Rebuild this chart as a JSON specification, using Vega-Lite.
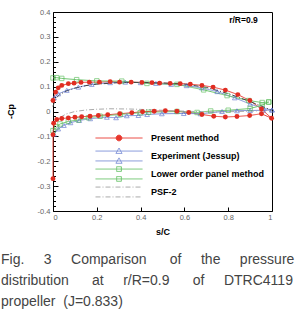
{
  "$schema": "https://vega.github.io/schema/vega-lite/v6.json",
  "autosize": "none",
  "width": 219,
  "height": 199,
  "padding": {"left": 53, "top": 12, "right": 26, "bottom": 105},
  "config": {
    "font": "Liberation Sans",
    "view": {"stroke": "black", "strokeWidth": 1},
    "axis": {"grid": false, "domainColor": "black", "tickColor": "black", "labelColor": "#666", "labelFontSize": 7.5, "titleFontSize": 9, "titleFontWeight": "bold", "titleColor": "black"}
  },
  "title": {
    "text": [
      "Fig.\u00a0\u00a0\u00a0\u00a0\u00a03\u00a0\u00a0\u00a0\u00a0\u00a0Comparison\u00a0\u00a0\u00a0\u00a0\u00a0\u00a0of\u00a0\u00a0\u00a0\u00a0\u00a0the\u00a0\u00a0\u00a0\u00a0\u00a0pressure",
      "distribution\u00a0\u00a0\u00a0\u00a0\u00a0\u00a0at\u00a0\u00a0\u00a0\u00a0\u00a0r/R=0.9\u00a0\u00a0\u00a0\u00a0\u00a0\u00a0of\u00a0\u00a0\u00a0\u00a0\u00a0DTRC4119",
      "propeller\u00a0\u00a0(J=0.833)"
    ],
    "orient": "bottom",
    "anchor": "start",
    "frame": "group",
    "dx": -52,
    "offset": 17,
    "fontSize": 14,
    "fontWeight": "normal",
    "color": "#444",
    "lineHeight": 21,
    "font": "Liberation Sans"
  },
  "data": {"values": [
    {"m":"Present method","sf":"P","i":0,"s":0.0,"cp":-0.27},
    {"m":"Present method","sf":"P","i":1,"s":0.0,"cp":-0.093},
    {"m":"Present method","sf":"P","i":2,"s":0.003,"cp":-0.047},
    {"m":"Present method","sf":"P","i":3,"s":0.017,"cp":-0.032},
    {"m":"Present method","sf":"P","i":4,"s":0.040,"cp":-0.028},
    {"m":"Present method","sf":"P","i":5,"s":0.070,"cp":-0.026},
    {"m":"Present method","sf":"P","i":6,"s":0.100,"cp":-0.023},
    {"m":"Present method","sf":"P","i":7,"s":0.131,"cp":-0.021},
    {"m":"Present method","sf":"P","i":8,"s":0.169,"cp":-0.019},
    {"m":"Present method","sf":"P","i":9,"s":0.207,"cp":-0.016},
    {"m":"Present method","sf":"P","i":10,"s":0.250,"cp":-0.013},
    {"m":"Present method","sf":"P","i":11,"s":0.305,"cp":-0.009},
    {"m":"Present method","sf":"P","i":12,"s":0.360,"cp":-0.005},
    {"m":"Present method","sf":"P","i":13,"s":0.409,"cp":-0.001},
    {"m":"Present method","sf":"P","i":14,"s":0.462,"cp":0.001},
    {"m":"Present method","sf":"P","i":15,"s":0.513,"cp":0.003},
    {"m":"Present method","sf":"P","i":16,"s":0.566,"cp":0.001},
    {"m":"Present method","sf":"P","i":17,"s":0.620,"cp":-0.004},
    {"m":"Present method","sf":"P","i":18,"s":0.680,"cp":-0.012},
    {"m":"Present method","sf":"P","i":19,"s":0.734,"cp":-0.019},
    {"m":"Present method","sf":"P","i":20,"s":0.787,"cp":-0.022},
    {"m":"Present method","sf":"P","i":21,"s":0.840,"cp":-0.020},
    {"m":"Present method","sf":"P","i":22,"s":0.898,"cp":-0.016},
    {"m":"Present method","sf":"P","i":23,"s":0.952,"cp":-0.009},
    {"m":"Present method","sf":"P","i":24,"s":0.998,"cp":-0.027},
    {"m":"Present method","sf":"P","i":25,"s":0.952,"cp":0.010},
    {"m":"Present method","sf":"P","i":26,"s":0.899,"cp":0.044},
    {"m":"Present method","sf":"P","i":27,"s":0.844,"cp":0.068},
    {"m":"Present method","sf":"P","i":28,"s":0.787,"cp":0.086},
    {"m":"Present method","sf":"P","i":29,"s":0.731,"cp":0.098},
    {"m":"Present method","sf":"P","i":30,"s":0.680,"cp":0.105},
    {"m":"Present method","sf":"P","i":31,"s":0.627,"cp":0.110},
    {"m":"Present method","sf":"P","i":32,"s":0.581,"cp":0.112},
    {"m":"Present method","sf":"P","i":33,"s":0.535,"cp":0.113},
    {"m":"Present method","sf":"P","i":34,"s":0.487,"cp":0.114},
    {"m":"Present method","sf":"P","i":35,"s":0.452,"cp":0.116},
    {"m":"Present method","sf":"P","i":36,"s":0.406,"cp":0.117},
    {"m":"Present method","sf":"P","i":37,"s":0.357,"cp":0.118},
    {"m":"Present method","sf":"P","i":38,"s":0.304,"cp":0.118},
    {"m":"Present method","sf":"P","i":39,"s":0.261,"cp":0.120},
    {"m":"Present method","sf":"P","i":40,"s":0.212,"cp":0.118},
    {"m":"Present method","sf":"P","i":41,"s":0.166,"cp":0.118},
    {"m":"Present method","sf":"P","i":42,"s":0.128,"cp":0.117},
    {"m":"Present method","sf":"P","i":43,"s":0.096,"cp":0.114},
    {"m":"Present method","sf":"P","i":44,"s":0.070,"cp":0.112},
    {"m":"Present method","sf":"P","i":45,"s":0.040,"cp":0.105},
    {"m":"Present method","sf":"P","i":46,"s":0.024,"cp":0.095},
    {"m":"Present method","sf":"P","i":47,"s":0.012,"cp":0.078},
    {"m":"Present method","sf":"P","i":48,"s":0.0,"cp":0.044},

    {"m":"Experiment (Jessup)","sf":"EU","i":0,"s":0.005,"cp":0.055},
    {"m":"Experiment (Jessup)","sf":"EU","i":1,"s":0.024,"cp":0.071},
    {"m":"Experiment (Jessup)","sf":"EU","i":2,"s":0.063,"cp":0.085},
    {"m":"Experiment (Jessup)","sf":"EU","i":3,"s":0.116,"cp":0.098},
    {"m":"Experiment (Jessup)","sf":"EU","i":4,"s":0.177,"cp":0.109},
    {"m":"Experiment (Jessup)","sf":"EU","i":5,"s":0.261,"cp":0.116},
    {"m":"Experiment (Jessup)","sf":"EU","i":6,"s":0.33,"cp":0.118},
    {"m":"Experiment (Jessup)","sf":"EU","i":7,"s":0.40,"cp":0.116},
    {"m":"Experiment (Jessup)","sf":"EU","i":8,"s":0.47,"cp":0.113},
    {"m":"Experiment (Jessup)","sf":"EU","i":9,"s":0.54,"cp":0.109},
    {"m":"Experiment (Jessup)","sf":"EU","i":10,"s":0.61,"cp":0.104},
    {"m":"Experiment (Jessup)","sf":"EU","i":11,"s":0.68,"cp":0.095},
    {"m":"Experiment (Jessup)","sf":"EU","i":12,"s":0.75,"cp":0.080},
    {"m":"Experiment (Jessup)","sf":"EU","i":13,"s":0.83,"cp":0.055},
    {"m":"Experiment (Jessup)","sf":"EU","i":14,"s":0.90,"cp":0.030},
    {"m":"Experiment (Jessup)","sf":"EU","i":15,"s":0.96,"cp":0.013},
    {"m":"Experiment (Jessup)","sf":"EU","i":16,"s":1.0,"cp":0.006},

    {"m":"Experiment (Jessup)","sf":"EL","i":0,"s":0.005,"cp":-0.092},
    {"m":"Experiment (Jessup)","sf":"EL","i":1,"s":0.024,"cp":-0.070},
    {"m":"Experiment (Jessup)","sf":"EL","i":2,"s":0.05,"cp":-0.056},
    {"m":"Experiment (Jessup)","sf":"EL","i":3,"s":0.08,"cp":-0.045},
    {"m":"Experiment (Jessup)","sf":"EL","i":4,"s":0.12,"cp":-0.036},
    {"m":"Experiment (Jessup)","sf":"EL","i":5,"s":0.17,"cp":-0.029},
    {"m":"Experiment (Jessup)","sf":"EL","i":6,"s":0.246,"cp":-0.023},
    {"m":"Experiment (Jessup)","sf":"EL","i":7,"s":0.288,"cp":-0.025},
    {"m":"Experiment (Jessup)","sf":"EL","i":8,"s":0.337,"cp":-0.017},
    {"m":"Experiment (Jessup)","sf":"EL","i":9,"s":0.39,"cp":-0.016},
    {"m":"Experiment (Jessup)","sf":"EL","i":10,"s":0.43,"cp":-0.012},
    {"m":"Experiment (Jessup)","sf":"EL","i":11,"s":0.497,"cp":-0.009},
    {"m":"Experiment (Jessup)","sf":"EL","i":12,"s":0.597,"cp":-0.008},
    {"m":"Experiment (Jessup)","sf":"EL","i":13,"s":0.673,"cp":-0.009},
    {"m":"Experiment (Jessup)","sf":"EL","i":14,"s":0.772,"cp":0.0},
    {"m":"Experiment (Jessup)","sf":"EL","i":15,"s":0.84,"cp":0.003},
    {"m":"Experiment (Jessup)","sf":"EL","i":16,"s":0.90,"cp":0.004},
    {"m":"Experiment (Jessup)","sf":"EL","i":17,"s":0.96,"cp":0.005},
    {"m":"Experiment (Jessup)","sf":"EL","i":18,"s":1.0,"cp":0.006},

    {"m":"Lower order panel method","sf":"LU","i":0,"s":0.0,"cp":0.135},
    {"m":"Lower order panel method","sf":"LU","i":1,"s":0.017,"cp":0.136},
    {"m":"Lower order panel method","sf":"LU","i":2,"s":0.04,"cp":0.133},
    {"m":"Lower order panel method","sf":"LU","i":3,"s":0.108,"cp":0.128},
    {"m":"Lower order panel method","sf":"LU","i":4,"s":0.2,"cp":0.123},
    {"m":"Lower order panel method","sf":"LU","i":5,"s":0.314,"cp":0.122},
    {"m":"Lower order panel method","sf":"LU","i":6,"s":0.429,"cp":0.113},
    {"m":"Lower order panel method","sf":"LU","i":7,"s":0.566,"cp":0.109},
    {"m":"Lower order panel method","sf":"LU","i":8,"s":0.688,"cp":0.087},
    {"m":"Lower order panel method","sf":"LU","i":9,"s":0.795,"cp":0.064},
    {"m":"Lower order panel method","sf":"LU","i":10,"s":0.894,"cp":0.044},
    {"m":"Lower order panel method","sf":"LU","i":11,"s":0.955,"cp":0.036},
    {"m":"Lower order panel method","sf":"LU","i":12,"s":0.985,"cp":0.038},

    {"m":"Lower order panel method","sf":"LL","i":0,"s":0.0,"cp":-0.077},
    {"m":"Lower order panel method","sf":"LL","i":1,"s":0.017,"cp":-0.062},
    {"m":"Lower order panel method","sf":"LL","i":2,"s":0.032,"cp":-0.050},
    {"m":"Lower order panel method","sf":"LL","i":3,"s":0.07,"cp":-0.040},
    {"m":"Lower order panel method","sf":"LL","i":4,"s":0.116,"cp":-0.034},
    {"m":"Lower order panel method","sf":"LL","i":5,"s":0.162,"cp":-0.025},
    {"m":"Lower order panel method","sf":"LL","i":6,"s":0.215,"cp":-0.019},
    {"m":"Lower order panel method","sf":"LL","i":7,"s":0.307,"cp":-0.012},
    {"m":"Lower order panel method","sf":"LL","i":8,"s":0.398,"cp":-0.005},
    {"m":"Lower order panel method","sf":"LL","i":9,"s":0.436,"cp":-0.003},
    {"m":"Lower order panel method","sf":"LL","i":10,"s":0.566,"cp":0.0},
    {"m":"Lower order panel method","sf":"LL","i":11,"s":0.658,"cp":-0.004},
    {"m":"Lower order panel method","sf":"LL","i":12,"s":0.72,"cp":0.002},
    {"m":"Lower order panel method","sf":"LL","i":13,"s":0.8,"cp":0.005},
    {"m":"Lower order panel method","sf":"LL","i":14,"s":0.9,"cp":0.012},
    {"m":"Lower order panel method","sf":"LL","i":15,"s":0.955,"cp":0.025},
    {"m":"Lower order panel method","sf":"LL","i":16,"s":0.985,"cp":0.038},

    {"m":"PSF-2 (b)","sf":"SU","i":0,"s":0.0,"cp":0.02},
    {"m":"PSF-2 (b)","sf":"SU","i":1,"s":0.01,"cp":0.05},
    {"m":"PSF-2 (b)","sf":"SU","i":2,"s":0.03,"cp":0.068},
    {"m":"PSF-2 (b)","sf":"SU","i":3,"s":0.06,"cp":0.082},
    {"m":"PSF-2 (b)","sf":"SU","i":4,"s":0.1,"cp":0.094},
    {"m":"PSF-2 (b)","sf":"SU","i":5,"s":0.15,"cp":0.104},
    {"m":"PSF-2 (b)","sf":"SU","i":6,"s":0.2,"cp":0.110},
    {"m":"PSF-2 (b)","sf":"SU","i":7,"s":0.3,"cp":0.116},
    {"m":"PSF-2 (b)","sf":"SU","i":8,"s":0.4,"cp":0.117},
    {"m":"PSF-2 (b)","sf":"SU","i":9,"s":0.5,"cp":0.115},
    {"m":"PSF-2 (b)","sf":"SU","i":10,"s":0.6,"cp":0.110},
    {"m":"PSF-2 (b)","sf":"SU","i":11,"s":0.7,"cp":0.097},
    {"m":"PSF-2 (b)","sf":"SU","i":12,"s":0.8,"cp":0.072},
    {"m":"PSF-2 (b)","sf":"SU","i":13,"s":0.9,"cp":0.040},
    {"m":"PSF-2 (b)","sf":"SU","i":14,"s":0.95,"cp":0.022},
    {"m":"PSF-2 (b)","sf":"SU","i":15,"s":1.0,"cp":0.005},

    {"m":"PSF-2","sf":"SL","i":0,"s":0.0,"cp":-0.05},
    {"m":"PSF-2","sf":"SL","i":1,"s":0.03,"cp":-0.025},
    {"m":"PSF-2","sf":"SL","i":2,"s":0.06,"cp":-0.01},
    {"m":"PSF-2","sf":"SL","i":3,"s":0.1,"cp":0.0},
    {"m":"PSF-2","sf":"SL","i":4,"s":0.15,"cp":0.006},
    {"m":"PSF-2","sf":"SL","i":5,"s":0.2,"cp":0.009},
    {"m":"PSF-2","sf":"SL","i":6,"s":0.26,"cp":0.011},
    {"m":"PSF-2","sf":"SL","i":7,"s":0.35,"cp":0.010},
    {"m":"PSF-2","sf":"SL","i":8,"s":0.45,"cp":0.007},
    {"m":"PSF-2","sf":"SL","i":9,"s":0.55,"cp":0.003},
    {"m":"PSF-2","sf":"SL","i":10,"s":0.65,"cp":0.0},
    {"m":"PSF-2","sf":"SL","i":11,"s":0.75,"cp":-0.002},
    {"m":"PSF-2","sf":"SL","i":12,"s":0.85,"cp":0.0},
    {"m":"PSF-2","sf":"SL","i":13,"s":0.95,"cp":0.003},
    {"m":"PSF-2","sf":"SL","i":14,"s":1.0,"cp":0.005}
  ]},
  "resolve": {"axis": {"y": "independent"}},
  "layer": [
    {
      "mark": {"type": "line", "strokeWidth": 1},
      "encoding": {
        "x": {"field": "s", "type": "quantitative", "scale": {"domain": [0, 1], "nice": false, "zero": false},
              "axis": {"values": [0, 0.2, 0.4, 0.6, 0.8, 1], "labelExpr": "datum.value + ''", "tickSize": -4, "labelPadding": 6, "title": "s/C", "titleY": 20, "titleBaseline": "middle", "domain": false}},
        "y": {"field": "cp", "type": "quantitative", "scale": {"domain": [-0.4, 0.4], "nice": false, "zero": false},
              "axis": {"orient": "left", "values": [-0.4, -0.3, -0.2, -0.1, 0, 0.1, 0.2, 0.3, 0.4], "labelExpr": "datum.value + ''", "tickSize": -5, "labelPadding": 8, "title": "-Cp", "titleX": -43, "titleY": 99, "titleBaseline": "middle", "domain": false}},
        "color": {"field": "m", "type": "nominal",
                  "scale": {"domain": ["Present method", "Experiment (Jessup)", "Lower order panel method", "PSF-2", "PSF-2 (b)"],
                            "range": ["#e8372c", "#7b8fd6", "#6cc46c", "#aaaaaa", "#444444"]},
                  "legend": {
                    "values": ["Present method", "Experiment (Jessup)", "Lower order panel method", "PSF-2"],
                    "title": null,
                    "orient": "none",
                    "legendX": 42,
                    "legendY": 118,
                    "padding": 0,
                    "symbolSize": 2209,
                    "symbolStrokeWidth": 1,
                    "clipHeight": 16,
                    "rowPadding": 2,
                    "labelOffset": 8,
                    "labelFontSize": 9,
                    "labelFontWeight": "bold",
                    "labelColor": "black",
                    "labelFont": "Liberation Sans",
                    "labelLimit": 200,
                    "encode": {
                      "symbols": {
                        "update": {
                          "shape": {"signal": "datum.value === 'Present method' ? 'M-1,0H1M-0.12,0A0.12,0.12,0,1,0,0.12,0A0.12,0.12,0,1,0,-0.12,0Z' : datum.value === 'Experiment (Jessup)' ? 'M-1,-0.21H1M-1,0.21H1M0,-0.34L0.13,-0.11L-0.13,-0.11ZM0,0.08L0.13,0.31L-0.13,0.31Z' : datum.value === 'Lower order panel method' ? 'M-1,-0.21H1M-1,0.21H1M-0.1,-0.31H0.1V-0.11H-0.1ZM-0.1,0.11H0.1V0.31H-0.1Z' : 'M-1,-0.21H1M-1,0.21H1'"},
                          "fill": {"signal": "datum.value === 'Present method' ? '#e8372c' : 'white'"}
                        }
                      }
                    }
                  }},
        "strokeDash": {"field": "m", "type": "nominal",
                       "scale": {"domain": ["Present method", "Experiment (Jessup)", "Lower order panel method", "PSF-2", "PSF-2 (b)"],
                                 "range": [[1, 0], [1, 0], [1, 0], [5, 2, 1, 2], [5, 2, 1, 2]]}},
        "detail": {"field": "sf"},
        "order": {"field": "i", "type": "quantitative"}
      }
    },
    {
      "transform": [{"filter": "datum.m === 'Experiment (Jessup)'"}],
      "mark": {"type": "point", "shape": "triangle-up", "filled": false, "stroke": "#5a6fcc", "strokeWidth": 0.9, "size": 22},
      "encoding": {
        "x": {"field": "s", "type": "quantitative"},
        "y": {"field": "cp", "type": "quantitative", "axis": null}
      }
    },
    {
      "transform": [{"filter": "datum.m === 'Lower order panel method'"}],
      "mark": {"type": "point", "shape": "square", "filled": false, "stroke": "#55bb55", "strokeWidth": 0.9, "size": 20},
      "encoding": {
        "x": {"field": "s", "type": "quantitative"},
        "y": {"field": "cp", "type": "quantitative", "axis": null}
      }
    },
    {
      "transform": [{"filter": "datum.m === 'Present method'"}],
      "mark": {"type": "point", "shape": "circle", "filled": true, "fill": "#e02d22", "opacity": 1, "size": 24},
      "encoding": {
        "x": {"field": "s", "type": "quantitative"},
        "y": {"field": "cp", "type": "quantitative",
              "axis": {"orient": "left", "values": [-0.38, -0.36, -0.34, -0.32, -0.28, -0.26, -0.24, -0.22, -0.18, -0.16, -0.14, -0.12, -0.08, -0.06, -0.04, -0.02, 0.02, 0.04, 0.06, 0.08, 0.12, 0.14, 0.16, 0.18, 0.22, 0.24, 0.26, 0.28, 0.32, 0.34, 0.36, 0.38],
                       "labels": false, "domain": false, "title": null, "tickSize": -2.5}}
      }
    },
    {
      "data": {"values": [{"note": "r/R=0.9"}]},
      "mark": {"type": "text", "align": "right", "baseline": "middle", "fontSize": 8.5, "fontWeight": "bold", "color": "black"},
      "encoding": {
        "x": {"datum": 0.935, "type": "quantitative"},
        "y": {"datum": 0.367, "type": "quantitative", "axis": null},
        "text": {"field": "note"}
      }
    }
  ]
}
